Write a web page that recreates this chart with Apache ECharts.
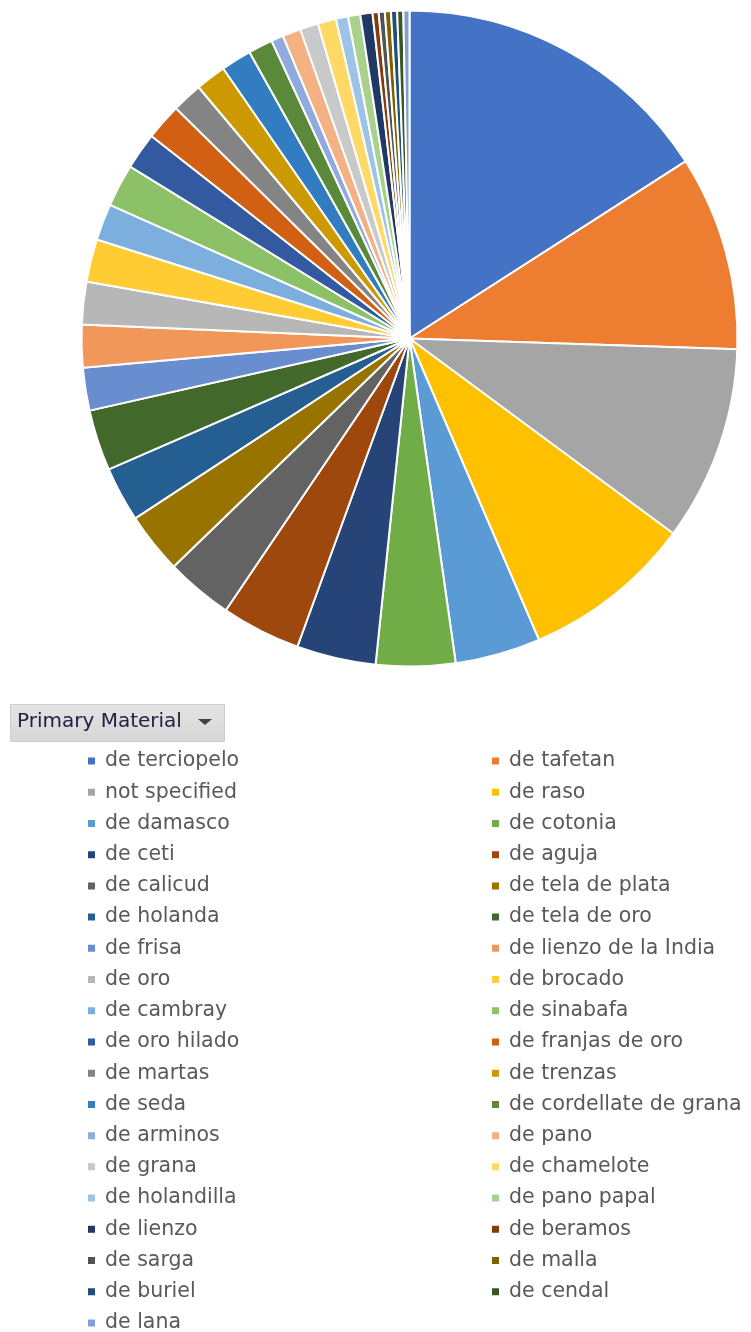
<!DOCTYPE html>
<html>
<head>
<meta charset="utf-8">
<script src="https://cdn.jsdelivr.net/npm/echarts@6/dist/echarts.min.js"></script>
<style>
  html, body { margin: 0; padding: 0; background: #ffffff; }
  #chart { width: 751px; height: 1332px; }
</style>
</head>
<body>
<div id="chart"></div>
<script>
// Categories (legend order, read row by row: left column then right column)
const categories = [
  "de terciopelo", "de tafetan", "not specified", "de raso",
  "de damasco", "de cotonia", "de ceti", "de aguja",
  "de calicud", "de tela de plata", "de holanda", "de tela de oro",
  "de frisa", "de lienzo de la India", "de oro", "de brocado",
  "de cambray", "de sinabafa", "de oro hilado", "de franjas de oro",
  "de martas", "de trenzas", "de seda", "de cordellate de grana",
  "de arminos", "de pano", "de grana", "de chamelote",
  "de holandilla", "de pano papal", "de lienzo", "de beramos",
  "de sarga", "de malla", "de buriel", "de cendal",
  "de lana"
];
// Counts
const counts = [
  53, 32, 32, 28,
  14, 13, 13, 13,
  11, 10, 9, 10,
  7, 7, 7, 7,
  6, 7, 6, 6,
  5, 5, 5, 4,
  2, 3, 3, 3,
  2, 2, 2, 1,
  1, 1, 1, 1,
  1
];
const sliceColors = [
  "#4472C4", "#ED7D31", "#A5A5A5", "#FFC000",
  "#5B9BD5", "#70AD47", "#264478", "#9E480E",
  "#636363", "#997300", "#255E91", "#43682B",
  "#698ED0", "#F1975A", "#B7B7B7", "#FFCD33",
  "#7CAFDD", "#8CC168", "#335AA1", "#D26012",
  "#848484", "#CC9A00", "#327DC2", "#5A8A39",
  "#8FAADC", "#F4B183", "#C9C9C9", "#FFD966",
  "#9DC3E6", "#A9D18E", "#203864", "#843C0C",
  "#525252", "#7F6000", "#1F4E79", "#385723",
  "#7F9FD8"
];
const fieldButtonLabel = "Primary Material";

const pieData = categories.map((name, i) => ({
  name: name,
  value: counts[i],
  itemStyle: { color: sliceColors[i] }
}));
const leftNames = categories.filter((_, i) => i % 2 === 0);
const rightNames = categories.filter((_, i) => i % 2 === 1);

const legendBase = {
  type: 'plain',
  orient: 'vertical',
  top: 745.5,
  height: 640,
  padding: 0,
  itemGap: 0.22,
  itemWidth: 9,
  itemHeight: 9,
  icon: 'rect',
  selectedMode: false,
  textStyle: {
    color: '#595959',
    fontFamily: 'DejaVu Sans',
    fontSize: 20.5,
    lineHeight: 31,
    padding: [0, 0, 0, 4]
  }
};

const chart = echarts.init(document.getElementById('chart'), null, { renderer: 'canvas' });
chart.setOption({
  animation: false,
  backgroundColor: '#ffffff',
  legend: [
    Object.assign({}, legendBase, { left: 86, data: leftNames }),
    Object.assign({}, legendBase, { left: 490, data: rightNames })
  ],
  graphic: [
    {
      type: 'rect',
      left: 10, top: 704,
      shape: { width: 214, height: 37 },
      style: {
        fill: new echarts.graphic.LinearGradient(0, 0, 0, 1, [
          { offset: 0, color: '#e4e4e4' },
          { offset: 1, color: '#d6d6d6' }
        ]),
        stroke: '#cccccc',
        lineWidth: 1
      }
    },
    {
      type: 'text',
      left: 17, top: 712,
      style: {
        text: fieldButtonLabel,
        fill: '#222244',
        font: '20px "DejaVu Sans"'
      }
    },
    {
      type: 'polygon',
      shape: { points: [[198, 719], [212, 719], [205, 725]] },
      style: { fill: '#404040' }
    }
  ],
  series: [{
    type: 'pie',
    center: [409.5, 338.5],
    radius: 328,
    startAngle: 90,
    clockwise: true,
    avoidLabelOverlap: false,
    label: { show: false },
    labelLine: { show: false },
    emphasis: { disabled: true },
    itemStyle: { borderColor: '#ffffff', borderWidth: 2 },
    data: pieData
  }]
});
</script>
</body>
</html>
